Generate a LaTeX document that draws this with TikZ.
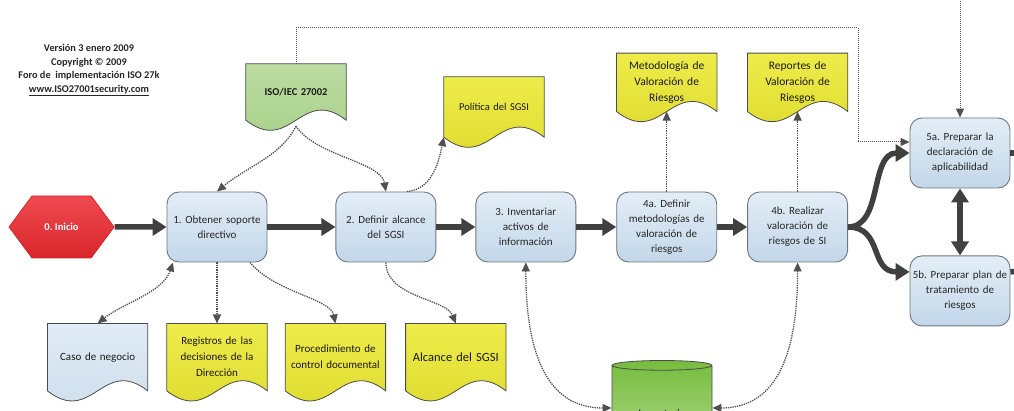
\documentclass[tikz,border=0pt]{standalone}
\usepackage{fontspec}
\setmainfont{Carlito}
\usetikzlibrary{arrows,arrows.meta}
\usetikzlibrary{positioning,shapes.geometric,shapes.symbols,backgrounds}
\frenchspacing

\definecolor{boxtop}{HTML}{E3EDF6}
\definecolor{boxbot}{HTML}{C3D7E9}
\definecolor{boxline}{HTML}{6B7785}
\definecolor{docyel}{HTML}{EEEC4A}
\definecolor{docyeldark}{HTML}{DCD82A}
\definecolor{docgreen}{HTML}{BCDCA2}
\definecolor{docgreendark}{HTML}{A5CF85}
\definecolor{docblue}{HTML}{E0EBF5}
\definecolor{docbluedark}{HTML}{CCDDEC}
\definecolor{startred}{HTML}{EE4A4F}
\definecolor{startreddark}{HTML}{D9262C}
\definecolor{cylgreen}{HTML}{76BC3E}
\definecolor{cyllight}{HTML}{B5DB8F}
\definecolor{flowgray}{HTML}{404040}
\definecolor{linkgray}{HTML}{505050}

\begin{document}
\begin{tikzpicture}[x=1pt,y=-1pt,
    proc node/.style={rectangle,rounded corners=12pt,draw=boxline,line width=0.9pt,
      top color=boxtop,bottom color=boxbot,minimum width=100pt,minimum height=70pt,
      text width=96pt,inner xsep=1pt,align=center,text=black!85,font=\fontsize{11}{15}\selectfont},
    doc node/.style={rectangle,minimum width=100pt,text width=94pt,inner xsep=1pt,align=center,
      text=black!90,font=\fontsize{11}{16}\selectfont},
    flow/.style={draw=flowgray,line width=5.5pt,-{Triangle[length=14pt,width=17pt]}},
    link/.style={draw=linkgray,densely dotted,line width=1.3pt,-{Triangle[length=9pt,width=8pt]}},
    both link/.style={link,{Triangle[length=9pt,width=8pt]}-{Triangle[length=9pt,width=8pt]}}]

  \useasboundingbox (0,0) rectangle (1014,411);
  \clip (0,0) rectangle (1014,411);

  % header
  \node[font=\bfseries\fontsize{10.3}{13.5}\selectfont,align=center,text=black!85] (info) at (89,70)
    {Versión 3 enero 2009\\Copyright © 2009\\Foro de\ \ implementación ISO 27k\\\underline{www.ISO27001security.com}};

  % process steps
  \node[proc node] (b1) at (217,227) {1. Obtener soporte\\directivo};
  \node[signal,signal to=west and east,signal pointer angle=107,minimum width=105pt,minimum height=62pt,
        draw=startreddark,line width=0.8pt,top color=startred,bottom color=startreddark,
        text=white,font=\bfseries\fontsize{10.5}{12}\selectfont,left=52pt of b1] (start) {0. Inicio};
  \node[proc node,right=68pt of b1] (b2) {2. Definir alcance\\del SGSI};
  \node[proc node,right=39pt of b2] (b3) {3. Inventariar\\activos de\\información};
  \node[proc node,right=40pt of b3] (a4) {4a. Definir\\metodologías de\\valoración de\\riesgos};
  \node[proc node,right=30pt of a4] (b4) {4b. Realizar\\valoración de\\riesgos de SI};
  \node[proc node] (a5) at (960,153) {5a. Preparar la\\declaración de\\aplicabilidad};
  \node[proc node,below=67pt of a5] (b5) {5b. Preparar plan de\\tratamiento de\\riesgos};

  % documents
  \node[doc node,minimum height=56pt,font=\bfseries\fontsize{10.5}{13}\selectfont] (iso) at (296,92) {ISO/IEC 27002};
  \node[doc node,minimum height=60pt,font=\fontsize{10.5}{13}\selectfont] (pol) at (494,107) {Política del SGSI};
  \node[doc node,minimum height=58pt,above=80pt of a4,font=\fontsize{11.5}{16}\selectfont] (met) {Metodología de\\Valoración de\\Riesgos};
  \node[doc node,minimum height=58pt,above=80pt of b4,font=\fontsize{11.5}{16}\selectfont] (rep) {Reportes de\\Valoración de\\Riesgos};
  \node[doc node,minimum height=67pt,below=61pt of b1] (reg) {Registros de las\\decisiones de la\\Dirección};
  \node[doc node,minimum height=67pt,left=19pt of reg] (caso) {Caso de negocio};
  \node[doc node,minimum height=67pt,right=18pt of reg] (proc) {Procedimiento de\\control documental};
  \node[doc node,minimum height=67pt,right=20pt of proc,font=\fontsize{12.5}{15}\selectfont] (alc) {Alcance del SGSI};

  \begin{scope}[on background layer]
    \foreach \d/\ct/\cb in {iso/docgreen/docgreendark,pol/docyel/docyeldark,met/docyel/docyeldark,
        rep/docyel/docyeldark,reg/docyel/docyeldark,caso/docblue/docbluedark,
        proc/docyel/docyeldark,alc/docyel/docyeldark}
      \draw[draw=gray!60!black,line width=0.8pt,top color=\ct,bottom color=\cb]
        (\d.north west) -- (\d.north east) -- (\d.south east)
        .. controls +(-45,-35) and +(45,35) .. (\d.south west) -- cycle;
  \end{scope}

  % asset inventory
  \node[cylinder,shape border rotate=90,aspect=0.18,minimum width=100pt,minimum height=100pt,
        draw=gray!60!black,line width=0.8pt,top color=cylgreen,bottom color=cyllight,
        font=\fontsize{11.5}{13}\selectfont] (inv) at (662,414) {Inventario};

  % main flow
  \draw[flow] (start) -- (b1);
  \draw[flow] (b1) -- (b2);
  \draw[flow] (b2) -- (b3);
  \draw[flow] (b3) -- (a4);
  \draw[flow] (a4) -- (b4);
  \draw[flow] (b4.east) .. controls +(35,0) and +(-40,0) .. (a5.west);
  \draw[flow] (b4.east) .. controls +(35,0) and +(-40,0) .. ([yshift=19pt]b5.west);
  \draw[flow,{Triangle[length=14pt,width=17pt]}-{Triangle[length=14pt,width=17pt]}] (a5) -- (b5);
  \coordinate (outa) at (1030,153);
  \coordinate (outb) at (1030,270);
  \draw[draw=flowgray,line width=5.5pt] (a5.east) -- (outa);
  \draw[draw=flowgray,line width=5.5pt] ([yshift=19pt]b5.east) -- (outb);

  % document links
  \draw[link] ([yshift=-6pt]iso.south) .. controls +(-15,30) and +(30,-25) .. (b1.north);
  \draw[link] ([yshift=-6pt]iso.south) .. controls +(20,30) and +(-5,-30) .. (b2.north);
  \draw[link] ([xshift=21pt]b2.north) .. controls +(25,-2) and +(-5,25) .. (pol.south west);
  \draw[both link] ([xshift=-44pt]b1.south) .. controls +(-10,30) and +(25,-20) .. (caso.north);
  \draw[link] (b1.south) -- (reg.north);
  \draw[link] ([xshift=33pt]b1.south) .. controls +(25,30) and +(-5,-25) .. (proc.north);
  \draw[link] (b2.south) .. controls +(0,35) and +(-10,-25) .. (alc.north);
  \draw[both link] (b3.south) .. controls +(0,100) and +(-60,0) .. ([yshift=6pt]inv.west);
  \draw[both link] (b4.south) .. controls +(0,100) and +(60,0) .. ([yshift=6pt]inv.east);
  \draw[link] (a4.north) -- (met.south);
  \draw[link] (b4.north) -- (rep.south);
  \coordinate (bend) at (858,28);
  \coordinate (topin) at (960,-5);
  \draw[link,line width=1pt] (iso.north) |- (bend) |- ([yshift=11pt]a5.west);
  \draw[link,line width=1pt] (topin) -- (a5.north);
\end{tikzpicture}
\end{document}
